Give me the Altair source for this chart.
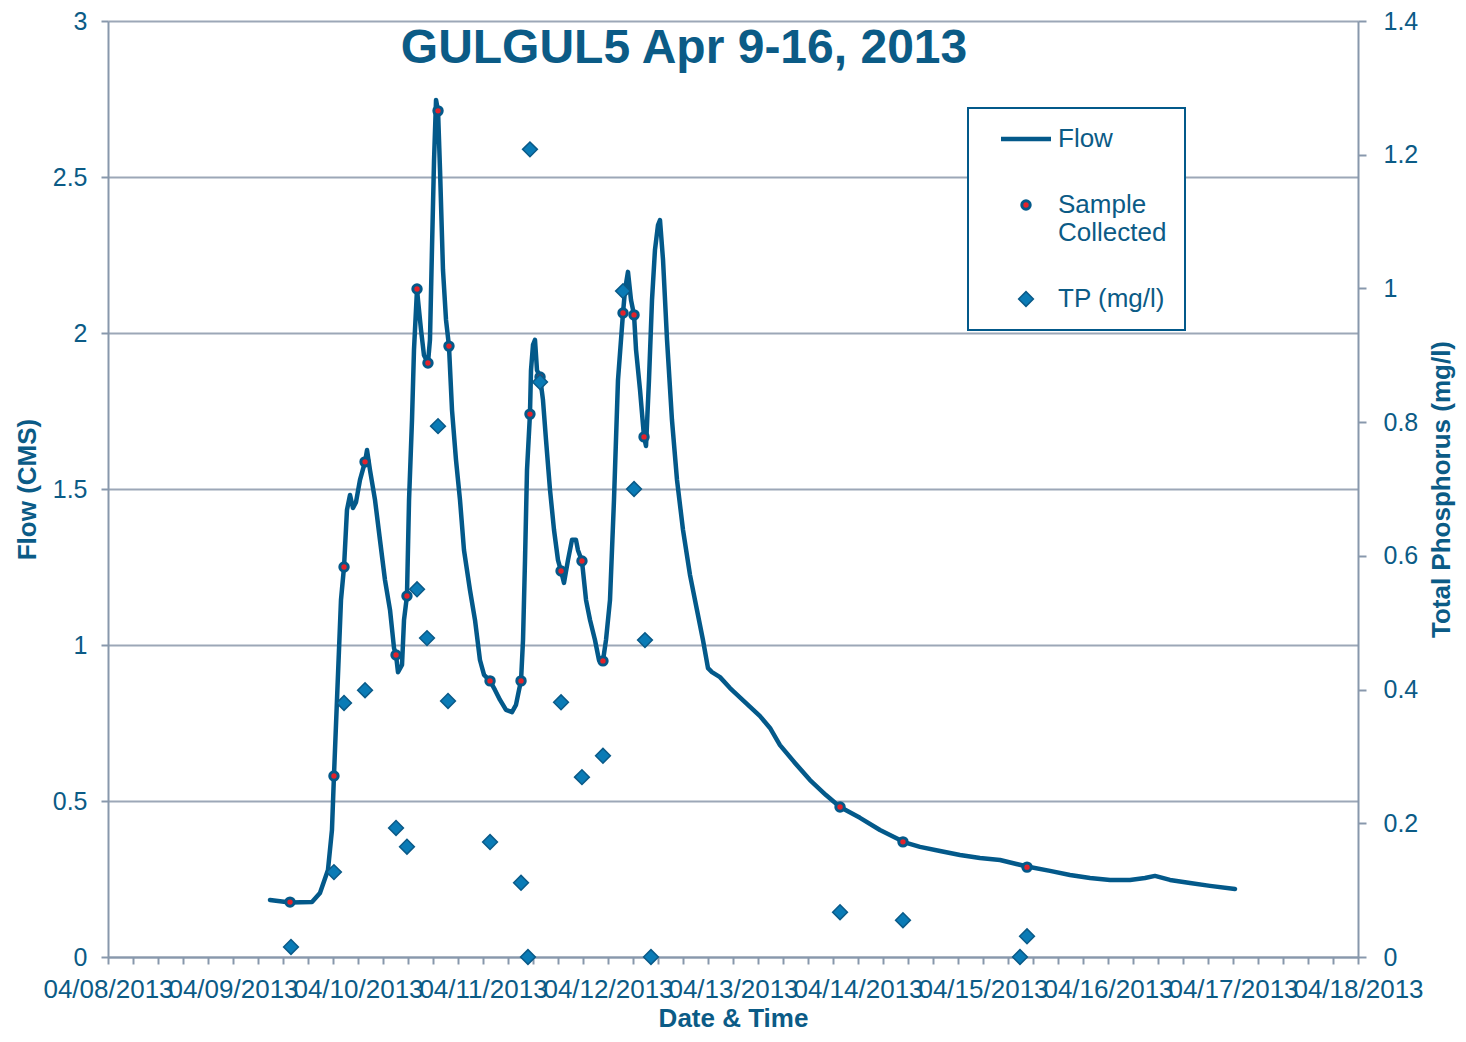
import altair as alt
import pandas as pd

# ---------------- data ----------------
flow_time = [
    "2013-04-09 07:06", "2013-04-09 10:57", "2013-04-09 15:10", "2013-04-09 16:42",
    "2013-04-09 18:14", "2013-04-09 19:00", "2013-04-09 19:23", "2013-04-09 19:58",
    "2013-04-09 20:44", "2013-04-09 21:19", "2013-04-09 21:53", "2013-04-09 22:28",
    "2013-04-09 23:02", "2013-04-09 23:37",
    "2013-04-10 00:23", "2013-04-10 01:21", "2013-04-10 01:44", "2013-04-10 02:18",
    "2013-04-10 03:16", "2013-04-10 04:13", "2013-04-10 05:11", "2013-04-10 06:09",
    "2013-04-10 06:55", "2013-04-10 07:18", "2013-04-10 07:41", "2013-04-10 08:27",
    "2013-04-10 08:50", "2013-04-10 09:24", "2013-04-10 09:48", "2013-04-10 10:22",
    "2013-04-10 10:45", "2013-04-10 11:20", "2013-04-10 11:31", "2013-04-10 12:06",
    "2013-04-10 12:40", "2013-04-10 13:26", "2013-04-10 13:49", "2013-04-10 14:12",
    "2013-04-10 14:36", "2013-04-10 14:59", "2013-04-10 15:22", "2013-04-10 15:45",
    "2013-04-10 16:19", "2013-04-10 16:54", "2013-04-10 17:28", "2013-04-10 18:03",
    "2013-04-10 18:49", "2013-04-10 19:35", "2013-04-10 20:21", "2013-04-10 21:30",
    "2013-04-10 22:28", "2013-04-10 23:25",
    "2013-04-11 00:12", "2013-04-11 01:21", "2013-04-11 02:18", "2013-04-11 03:16",
    "2013-04-11 04:25", "2013-04-11 05:34", "2013-04-11 06:20", "2013-04-11 06:55",
    "2013-04-11 07:18", "2013-04-11 07:41", "2013-04-11 08:04", "2013-04-11 08:27",
    "2013-04-11 09:01", "2013-04-11 09:13", "2013-04-11 09:36", "2013-04-11 09:59",
    "2013-04-11 10:22", "2013-04-11 10:57", "2013-04-11 11:31", "2013-04-11 12:06",
    "2013-04-11 12:52", "2013-04-11 13:38", "2013-04-11 14:24", "2013-04-11 14:59",
    "2013-04-11 15:33", "2013-04-11 16:19", "2013-04-11 17:05", "2013-04-11 17:51",
    "2013-04-11 18:14", "2013-04-11 19:00", "2013-04-11 19:47", "2013-04-11 20:33",
    "2013-04-11 21:30", "2013-04-11 22:16", "2013-04-11 23:02", "2013-04-11 23:37",
    "2013-04-12 00:23", "2013-04-12 01:09", "2013-04-12 01:55", "2013-04-12 02:53",
    "2013-04-12 03:16", "2013-04-12 03:50", "2013-04-12 04:25", "2013-04-12 05:00",
    "2013-04-12 05:23", "2013-04-12 06:09", "2013-04-12 06:55", "2013-04-12 07:18",
    "2013-04-12 07:52", "2013-04-12 08:27", "2013-04-12 09:01", "2013-04-12 09:36",
    "2013-04-12 09:59", "2013-04-12 10:34", "2013-04-12 11:20", "2013-04-12 12:17",
    "2013-04-12 13:15", "2013-04-12 14:24", "2013-04-12 15:45", "2013-04-12 17:05",
    "2013-04-12 18:14", "2013-04-12 19:12", "2013-04-12 19:58", "2013-04-12 21:30",
    "2013-04-12 23:25",
    "2013-04-13 02:18", "2013-04-13 05:11", "2013-04-13 07:06", "2013-04-13 09:01",
    "2013-04-13 11:54", "2013-04-13 14:47", "2013-04-13 17:51", "2013-04-13 20:33",
    "2013-04-14 00:23", "2013-04-14 04:13", "2013-04-14 08:04", "2013-04-14 08:38",
    "2013-04-14 11:54", "2013-04-14 15:45", "2013-04-14 19:35", "2013-04-14 23:25",
    "2013-04-15 03:16", "2013-04-15 08:27", "2013-04-15 12:52", "2013-04-15 16:42",
    "2013-04-15 20:33",
    "2013-04-16 00:23", "2013-04-16 04:13", "2013-04-16 07:06", "2013-04-16 09:01",
    "2013-04-16 11:54", "2013-04-16 15:45", "2013-04-16 19:35",
    "2013-04-17 00:23",
]
flow_cms = [
    0.183, 0.175, 0.176, 0.205,
    0.279, 0.407, 0.580, 0.824,
    1.144, 1.250, 1.433, 1.481,
    1.439, 1.458,
    1.529, 1.587, 1.625, 1.561,
    1.465, 1.337, 1.208, 1.112,
    0.990, 0.968, 0.913, 0.936,
    1.080, 1.157, 1.465, 1.721,
    1.946, 2.141, 2.106, 2.010,
    1.929, 1.904, 1.978, 2.266,
    2.554, 2.747, 2.712, 2.522,
    2.202, 2.042, 1.958, 1.753,
    1.593, 1.465, 1.304, 1.176,
    1.080, 0.952,
    0.904, 0.885, 0.856, 0.824,
    0.792, 0.785, 0.808, 0.856,
    0.885, 1.016, 1.272, 1.561,
    1.740, 1.881, 1.962, 1.978,
    1.881, 1.859, 1.785, 1.657,
    1.497, 1.369, 1.272, 1.237,
    1.199, 1.272, 1.337, 1.337,
    1.304, 1.269, 1.144, 1.080,
    1.016, 0.952, 0.949, 1.016,
    1.144, 1.465, 1.849, 2.064,
    2.138, 2.196, 2.106, 2.058,
    1.946, 1.817, 1.667, 1.638,
    1.849, 2.106, 2.266, 2.346,
    2.362, 2.234, 1.978, 1.721,
    1.529, 1.369, 1.224, 1.112,
    1.016, 0.926, 0.913, 0.897,
    0.862,
    0.817, 0.772, 0.734, 0.679,
    0.622, 0.567, 0.519, 0.481,
    0.446, 0.407, 0.375, 0.369,
    0.353, 0.340, 0.327, 0.317,
    0.311, 0.290, 0.276, 0.263,
    0.253,
    0.247, 0.247, 0.253, 0.260,
    0.247, 0.237, 0.228,
    0.218,
]

sample_time = [
    "2013-04-09 10:57", "2013-04-09 19:23", "2013-04-09 21:19", "2013-04-10 01:21",
    "2013-04-10 07:18", "2013-04-10 09:24", "2013-04-10 11:20", "2013-04-10 13:26",
    "2013-04-10 15:22", "2013-04-10 17:28", "2013-04-11 01:21", "2013-04-11 07:18",
    "2013-04-11 09:01", "2013-04-11 10:57", "2013-04-11 14:59", "2013-04-11 19:00",
    "2013-04-11 23:02", "2013-04-12 02:53", "2013-04-12 05:00", "2013-04-12 06:55",
    "2013-04-13 20:33", "2013-04-14 08:38", "2013-04-15 08:27",
]
sample_flow = [
    0.176, 0.580, 1.250, 1.587,
    0.968, 1.157, 2.141, 1.904,
    2.712, 1.958, 0.885, 0.885,
    1.740, 1.859, 1.237, 1.269,
    0.949, 2.064, 2.058, 1.667,
    0.481, 0.369, 0.288,
]

tp_time = [
    "2013-04-09 11:08", "2013-04-09 19:23", "2013-04-09 21:19", "2013-04-10 01:21",
    "2013-04-10 07:18", "2013-04-10 09:24", "2013-04-10 11:20", "2013-04-10 13:15",
    "2013-04-10 15:22", "2013-04-10 17:17", "2013-04-11 01:21", "2013-04-11 07:18",
    "2013-04-11 08:38", "2013-04-11 09:01", "2013-04-11 10:57", "2013-04-11 14:59",
    "2013-04-11 19:00", "2013-04-11 23:02", "2013-04-12 02:53", "2013-04-12 05:00",
    "2013-04-12 07:06", "2013-04-12 08:15", "2013-04-13 20:33", "2013-04-14 08:38",
    "2013-04-15 07:06", "2013-04-15 08:27",
]
tp_mgl = [
    0.015, 0.127, 0.380, 0.399,
    0.193, 0.165, 0.550, 0.477,
    0.794, 0.383, 0.172, 0.111,
    0.000, 1.208, 0.860, 0.381,
    0.269, 0.301, 0.996, 0.700,
    0.474, 0.000, 0.067, 0.055,
    0.000, 0.031,
]

series_names = ["Flow", "Sample Collected", "TP (mg/l)"]
flow_ticks = [0, 0.5, 1, 1.5, 2, 2.5, 3]
tp_ticks = [0, 0.2, 0.4, 0.6, 0.8, 1, 1.2, 1.4]
title_text = "GULGUL5 Apr 9-16, 2013"

# ---------------- styling ----------------
FONT = "Liberation Sans"
TEXT = "#0b5b86"
LINE = "#03598a"
DIA_FILL = "#0a7bb6"
DIA_EDGE = "#0a5a88"
RED = "#e3232b"
AXIS = "#8898ac"
GRID = "#9ca7b7"
SYM_SIZE = 400  # custom symbol paths below are scaled by sqrt(size)/2 = 10 px
SYM_FLOW = "M-2.5,0H2.5"
SYM_SAMPLE = "M0.42,0A0.42,0.42,0,1,1,-0.42,0A0.42,0.42,0,1,1,0.42,0Z"
SYM_TP = "M-0.74,0L0,-0.74L0.74,0L0,0.74Z"

flow_df = pd.DataFrame({"time": flow_time, "flow": flow_cms, "series": series_names[0]})
sample_df = pd.DataFrame({"time": sample_time, "flow": sample_flow, "series": series_names[1]})
tp_df = pd.DataFrame({"time": tp_time, "tp": tp_mgl, "series": series_names[2]})
title_df = pd.DataFrame({"label": [title_text]})

# x axis: a tick every 4.8 hours, labels at midnight
x_tick_values = []
for k in range(51):
    total_min = k * 288
    day, rem = divmod(total_min, 1440)
    x_tick_values.append(
        alt.DateTime(year=2013, month=4, date=8 + day, hours=rem // 60, minutes=rem % 60)
    )

x_enc = alt.X(
    "time:T",
    scale=alt.Scale(domain=[alt.DateTime(year=2013, month=4, date=8),
                            alt.DateTime(year=2013, month=4, date=18)]),
    axis=alt.Axis(
        values=x_tick_values,
        labelExpr="hours(datum.value) == 0 && minutes(datum.value) == 0 ? timeFormat(datum.value, '%m/%d/%Y') : ''",
        labelOverlap=False,
        labelFlush=False,
        labelFontSize=26,
        tickSize=7,
        labelPadding=12,
        grid=False,
        title="Date & Time",
        titleY=61,
        titleBaseline="middle",
    ),
)

legend = alt.Legend(
    title=None,
    orient="none",
    legendX=860,
    legendY=87,
    padding=18,
    rowPadding=40,
    symbolOffset=27,
    labelOffset=19,
    labelExpr="datum.label == 'Sample Collected' ? ['Sample', 'Collected'] : datum.label",
)

stroke_enc = alt.Stroke("series:N", scale=alt.Scale(domain=series_names, range=[LINE, LINE, DIA_EDGE]), legend=legend)
sw_enc = alt.StrokeWidth("series:N", scale=alt.Scale(domain=series_names, range=[4.5, 1.5, 1.2]), legend=legend)
fill_enc = alt.Fill("series:N", scale=alt.Scale(domain=series_names, range=["transparent", RED, DIA_FILL]), legend=legend)
shape_enc = alt.Shape("series:N", scale=alt.Scale(domain=series_names, range=[SYM_FLOW, SYM_SAMPLE, SYM_TP]), legend=legend)

y_flow = alt.Y(
    "flow:Q",
    scale=alt.Scale(domain=[0, 3], nice=False),
    axis=alt.Axis(
        orient="left",
        values=flow_ticks,
        format="~g",
        grid=True,
        tickSize=7,
        labelPadding=14,
        title="Flow (CMS)",
        titleX=-81,
        titleY=468,
        titleBaseline="middle",
    ),
)

line = alt.Chart(flow_df).mark_line(strokeJoin="round", strokeCap="round").encode(
    x=x_enc, y=y_flow, stroke=stroke_enc, strokeWidth=sw_enc
)

samples = alt.Chart(sample_df).mark_point(filled=True, opacity=1, size=SYM_SIZE).encode(
    x=x_enc, y=y_flow, stroke=stroke_enc, strokeWidth=sw_enc,
    fill=fill_enc, shape=shape_enc,
)

tp = alt.Chart(tp_df).mark_point(filled=True, opacity=1, size=SYM_SIZE).encode(
    x=x_enc,
    y=alt.Y(
        "tp:Q",
        scale=alt.Scale(domain=[0, 1.4], nice=False),
        axis=alt.Axis(
            orient="right",
            values=tp_ticks,
            format="~g",
            grid=False,
            tickSize=8,
            labelPadding=17,
            title="Total Phosphorus (mg/l)",
            titleAngle=270,
            titleX=83,
            titleY=468,
            titleBaseline="middle",
        ),
    ),
    stroke=stroke_enc, strokeWidth=sw_enc, fill=fill_enc, shape=shape_enc,
)

title_mark = alt.Chart(title_df).mark_text(
    font=FONT, fontSize=48, fontWeight="bold", color=TEXT, align="center", baseline="middle"
).encode(text="label:N", x=alt.value(576), y=alt.value(28))

chart = (
    alt.layer(alt.layer(line, samples), tp, title_mark)
    .resolve_scale(y="independent")
    .properties(
        width=1250,
        height=936,
        autosize=alt.AutoSizeParams(type="none"),
        padding={"left": 100, "top": 13, "right": 100, "bottom": 77},
    )
    .configure_view(strokeWidth=0)
    .configure_axis(
        labelFont=FONT,
        labelFontSize=25,
        labelColor=TEXT,
        titleFont=FONT,
        titleFontSize=26,
        titleFontWeight="bold",
        titleColor=TEXT,
        domainColor=AXIS,
        domainWidth=2,
        tickColor=AXIS,
        tickWidth=2,
        gridColor=GRID,
        gridWidth=2,
    )
    .configure_legend(
        labelFont=FONT,
        labelFontSize=26,
        labelColor=TEXT,
        strokeColor=LINE,
        strokeWidth=2,
        fillColor="white",
        symbolSize=SYM_SIZE,
    )
)

chart.save("out.html", embed_options={"renderer": "svg", "actions": False})
